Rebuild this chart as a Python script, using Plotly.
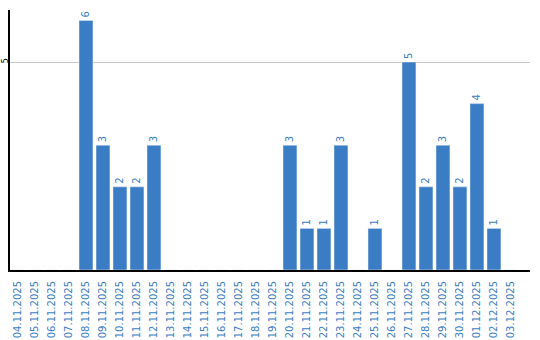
import plotly.graph_objects as go

dates = ["04.11.2025","05.11.2025","06.11.2025","07.11.2025","08.11.2025","09.11.2025",
         "10.11.2025","11.11.2025","12.11.2025","13.11.2025","14.11.2025","15.11.2025",
         "16.11.2025","17.11.2025","18.11.2025","19.11.2025","20.11.2025","21.11.2025",
         "22.11.2025","23.11.2025","24.11.2025","25.11.2025","26.11.2025","27.11.2025",
         "28.11.2025","29.11.2025","30.11.2025","01.12.2025","02.12.2025","03.12.2025"]
counts = [0,0,0,0,6,3,2,2,3,0,0,0,0,0,0,0,3,1,1,3,0,1,0,5,2,3,2,4,1,0]
ytick_vals = [5]

blue = "#3b7dc4"
labels = [str(v) if v else "" for v in counts]

fig = go.Figure(go.Bar(
    x=list(range(len(dates))), y=counts, marker_color=blue, width=0.82,
    text=labels, textposition="outside", textangle=-90,
    textfont=dict(color=blue, size=10, family="DejaVu Sans"),
    cliponaxis=False, hoverinfo="skip"))

fig.update_layout(
    width=540, height=340, margin=dict(l=10, r=10, t=10, b=70),
    plot_bgcolor="white", paper_bgcolor="white", showlegend=False,
    font=dict(family="DejaVu Sans"),
)
fig.update_xaxes(range=[-0.47, 30.12], tickvals=list(range(len(dates))), ticktext=dates,
                 tickangle=-90, tickfont=dict(color=blue, size=10, family="DejaVu Sans"),
                 showline=True, linecolor="black", linewidth=2, showgrid=False,
                 ticks="", zeroline=False, automargin=False, ticklabelstandoff=5)
fig.update_yaxes(range=[0, 6.25], tickvals=ytick_vals, tickangle=-90,
                 tickfont=dict(color="black", size=8, family="DejaVu Sans"),
                 showline=True, linecolor="black", linewidth=2, showgrid=True,
                 gridcolor="#c8c8c8", gridwidth=1, zeroline=False, ticks="",
                 automargin=False, ticklabelstandoff=-3)
fig.write_html("out.html")
